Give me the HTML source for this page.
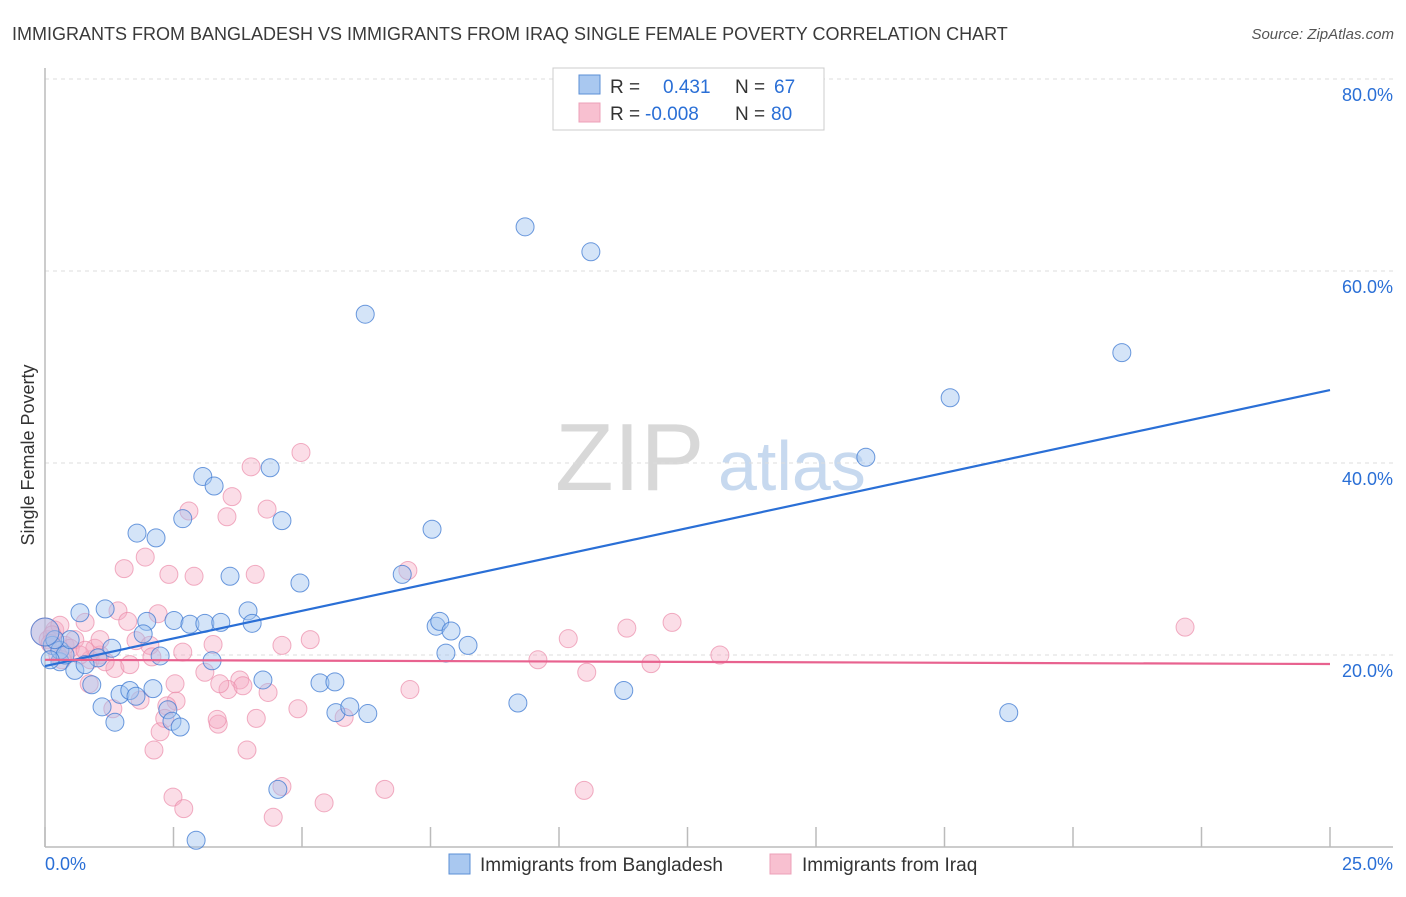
<!DOCTYPE html>
<html><head><meta charset="utf-8"><style>
body{margin:0;background:#fff;font-family:"Liberation Sans",sans-serif;}
svg text{font-family:"Liberation Sans",sans-serif;}
</style></head><body>
<svg id="chart" width="1406" height="892" xmlns="http://www.w3.org/2000/svg">
<text x="12" y="40" font-size="18" fill="#3a3a3a">IMMIGRANTS FROM BANGLADESH VS IMMIGRANTS FROM IRAQ SINGLE FEMALE POVERTY CORRELATION CHART</text>
<text x="1394" y="39" font-size="15" fill="#555" font-style="italic" text-anchor="end">Source: ZipAtlas.com</text>
<g>
<text x="555" y="490" font-size="96" fill="#d8d8d8" font-family="Liberation Serif">ZIP</text>
<text x="718" y="490" font-size="70" fill="#c7d9ef">atlas</text>
</g>
<g id="grid"></g>
<g id="axes"></g>
<g id="points"></g>
<g id="lines"></g>
<text transform="translate(34,455) rotate(-90)" font-size="18" fill="#333" text-anchor="middle">Single Female Poverty</text>
<g>
<rect x="553" y="68" width="271" height="62" fill="#fff" stroke="#ccc"/>
<rect x="579" y="75" width="21" height="19" fill="#a9c8f0" stroke="#5b8fd6"/>
<rect x="579" y="103" width="21" height="19" fill="#f8c0d0" stroke="#eda0b8"/>
<text x="610" y="93" font-size="19" fill="#333">R =</text>
<text x="663" y="93" font-size="19" fill="#2a6fd6">0.431</text>
<text x="735" y="93" font-size="19" fill="#333">N =</text>
<text x="774" y="93" font-size="19" fill="#2a6fd6">67</text>
<text x="610" y="120" font-size="19" fill="#333">R =</text>
<text x="645" y="120" font-size="19" fill="#2a6fd6">-0.008</text>
<text x="735" y="120" font-size="19" fill="#333">N =</text>
<text x="771" y="120" font-size="19" fill="#2a6fd6">80</text>
</g>
<g>
<rect x="449" y="854" width="21" height="20" fill="#a9c8f0" stroke="#5b8fd6"/>
<text x="480" y="871" font-size="19" fill="#333">Immigrants from Bangladesh</text>
<rect x="770" y="854" width="21" height="20" fill="#f8c0d0" stroke="#eda0b8"/>
<text x="802" y="871" font-size="19" fill="#333">Immigrants from Iraq</text>
</g>
</svg>
<script>
const yTicks=[20,40,60,80];
const yTickLabels=["20.0%","40.0%","60.0%","80.0%"];
const xTicks=[0,2.5,5,7.5,10,12.5,15,17.5,20,22.5,25];
const blueX=[9.34,10.62,6.23,20.95,17.61,15.97,4.38,3.07,3.29,7.53,2.68,4.61,1.79,2.16,4.96,3.60,6.95,1.17,0.68,3.95,1.98,2.51,2.82,3.11,3.42,4.03,7.61,7.68,7.90,8.23,7.80,1.91,1.30,1.03,2.24,3.25,0.29,0.58,0.91,1.46,1.65,1.77,2.10,4.24,5.35,5.64,9.20,11.26,18.75,1.11,1.36,2.39,2.47,2.63,5.66,5.93,6.28,4.53,2.94,0.14,0.29,0.39,0.78,0.10,0.49,0.19,0];
const blueY=[64.6,62.0,55.5,51.5,46.8,40.6,39.5,38.6,37.6,33.1,34.2,34.0,32.7,32.2,27.5,28.2,28.4,24.8,24.4,24.6,23.5,23.6,23.2,23.3,23.4,23.3,23.0,23.5,22.5,21.0,20.2,22.2,20.7,19.7,19.9,19.4,19.3,18.4,16.9,15.9,16.3,15.7,16.5,17.4,17.1,17.2,15.0,16.3,14.0,14.6,13.0,14.3,13.1,12.5,14.0,14.6,13.9,6.0,0.7,21.0,20.5,20.0,19.0,19.5,21.6,21.6,22.4];
const pinkX=[4.98,4.01,3.64,2.80,3.54,4.32,1.95,1.54,2.41,2.90,4.09,7.06,0.78,1.42,1.61,2.20,1.77,2.04,3.27,2.68,4.61,5.16,10.18,11.32,12.20,13.13,9.59,11.79,10.54,22.18,1.07,1.36,1.65,2.08,2.53,3.11,3.79,4.34,4.92,5.82,7.10,2.55,3.56,3.85,3.40,0.86,1.32,1.85,2.37,2.24,2.33,3.37,3.35,4.11,2.12,3.93,2.49,2.70,4.44,4.61,5.43,6.61,10.49,0,0.06,0.19,0.29,0.39,0.58,0.88,0.97,1.17,0.49,0.68,0.14,0.25,0.33,1.07,0.78,0.1];
const pinkY=[41.1,39.6,36.5,35.0,34.4,35.2,30.2,29.0,28.4,28.2,28.4,28.8,23.4,24.6,23.5,24.3,21.5,21.0,21.1,20.3,21.0,21.6,21.7,22.8,23.4,20.0,19.5,19.1,18.2,22.9,20.0,18.6,19.0,19.8,17.0,18.2,17.4,16.1,14.4,13.5,16.4,15.2,16.4,16.8,17.0,17.0,14.4,15.3,14.7,12.0,13.4,12.8,13.3,13.4,10.1,10.1,5.2,4.0,3.1,6.3,4.6,6.0,5.9,22.4,21.6,22.6,23.1,21.0,21.6,19.5,20.7,19.3,20.7,20.0,22.1,20.0,19.5,21.6,20.5,21.2];
const blueTrend=[18.85,47.6];
const pinkTrend=[19.5,19.06];
const NS="http://www.w3.org/2000/svg";
const X=v=>45+v*51.4;
const Y=v=>847-v*9.6;
function mk(tag,attrs,parent){const e=document.createElementNS(NS,tag);for(const k in attrs)e.setAttribute(k,attrs[k]);parent.appendChild(e);return e;}
const grid=document.getElementById('grid'),axes=document.getElementById('axes'),pts=document.getElementById('points'),lines=document.getElementById('lines');
yTicks.forEach((t,i)=>{
 const l=mk('line',{x1:45,x2:1393,y1:Y(t),y2:Y(t),stroke:'#ddd','stroke-dasharray':'4,4'},grid);
 
 
 const tx=mk('text',{x:1393,y:Y(t)+22,'font-size':18,fill:'#2a6fd6','text-anchor':'end'},axes);
 tx.textContent=yTickLabels[i];
 
 
});
const ax=mk('line',{x1:45,x2:1393,y1:847,y2:847,stroke:'#bbb','stroke-width':1.5},axes);


const ay=mk('line',{x1:45,x2:45,y1:68,y2:847,stroke:'#bbb','stroke-width':1.5},axes);


xTicks.forEach(t=>{
 const l=mk('line',{x1:X(t),x2:X(t),y1:827,y2:847,stroke:'#bbb','stroke-width':1.5},axes);
 
 
});
const x0=mk('text',{x:45,y:870,'font-size':18,fill:'#2a6fd6'},axes);x0.textContent='0.0%';


const x1=mk('text',{x:1393,y:870,'font-size':18,fill:'#2a6fd6','text-anchor':'end'},axes);x1.textContent='25.0%';


pinkX.forEach((v,i)=>{
 const c=mk('circle',{cx:X(v),cy:Y(pinkY[i]),r:v===0?14:9,fill:'rgba(246,170,195,0.4)',stroke:'rgba(235,140,170,0.7)','stroke-width':1},pts);
 
 
});
blueX.forEach((v,i)=>{
 const c=mk('circle',{cx:X(v),cy:Y(blueY[i]),r:v===0?14:9,fill:'rgba(160,196,240,0.45)',stroke:'rgba(60,120,210,0.75)','stroke-width':1},pts);
 
 
});
const bl=mk('line',{x1:X(0),x2:X(25),y1:Y(blueTrend[0]),y2:Y(blueTrend[1]),stroke:'#2a6fd6','stroke-width':2.2},lines);


const pl=mk('line',{x1:X(0),x2:X(25),y1:Y(pinkTrend[0]),y2:Y(pinkTrend[1]),stroke:'#e8628f','stroke-width':2.2},lines);


</script>
</body></html>
